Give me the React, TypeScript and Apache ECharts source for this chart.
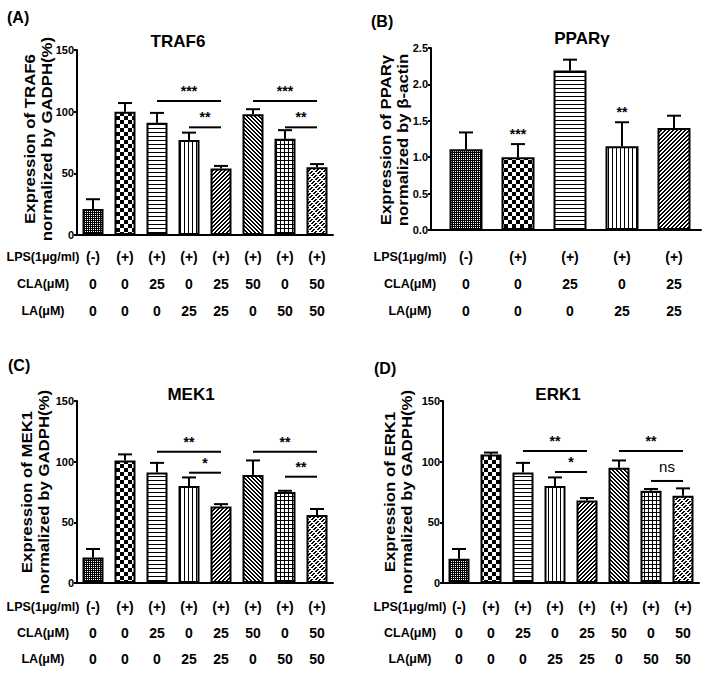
import React, { useEffect, useRef } from "react";
import * as echarts from "echarts";

// ---------- DATA ----------
const lps8 = ["(-)", "(+)", "(+)", "(+)", "(+)", "(+)", "(+)", "(+)"];
const cla8 = ["0", "0", "25", "0", "25", "50", "0", "50"];
const la8 = ["0", "0", "0", "25", "25", "0", "50", "50"];

const lps5 = ["(-)", "(+)", "(+)", "(+)", "(+)"];
const cla5 = ["0", "0", "25", "0", "25"];
const la5 = ["0", "0", "0", "25", "25"];

const rowLabels = ["LPS(1\u03bcg/ml)", "CLA(\u03bcM)", "LA(\u03bcM)"];

const traf6Mean = [21, 100, 91, 77, 54, 98, 78, 55];
const traf6Err = [8, 7, 8, 6, 2, 4, 7, 2.5];
const ppargMean = [1.11, 1.0, 2.19, 1.15, 1.4];
const ppargErr = [0.23, 0.18, 0.15, 0.33, 0.17];
const mek1Mean = [21, 101, 91, 80, 63, 89, 75, 56];
const mek1Err = [7, 5, 8, 7, 2, 12, 1, 5];
const erk1Mean = [20, 106, 91, 80, 68, 95, 76, 72];
const erk1Err = [8, 1.5, 8, 7, 2, 6, 1.5, 6];

const traf6Sig = [
  { from: 2, to: 4, y: 108.6, label: "***" },
  { from: 3, to: 4, y: 87.3, label: "**" },
  { from: 5, to: 7, y: 108.6, label: "***" },
  { from: 6, to: 7, y: 87.3, label: "**" },
];
const ppargSig = [
  { at: 1, label: "***" },
  { at: 3, label: "**" },
];
const mek1Sig = [
  { from: 2, to: 4, y: 108.2, label: "**" },
  { from: 3, to: 4, y: 90.9, label: "*" },
  { from: 5, to: 7, y: 108.2, label: "**" },
  { from: 6, to: 7, y: 87.6, label: "**" },
];
const erk1Sig = [
  { from: 2, to: 4, y: 108.8, label: "**" },
  { from: 3, to: 4, y: 91.5, label: "*" },
  { from: 5, to: 7, y: 108.8, label: "**" },
  { from: 6, to: 7, y: 84.1, label: "ns" },
];

const titles = ["TRAF6", "PPAR\u03b3", "MEK1", "ERK1"];
const panelLabels = ["(A)", "(B)", "(C)", "(D)"];
const yNames = [
  "Expression of TRAF6\nnormalized by GADPH(%)",
  "Expression of PPAR\u03b3\nnormalized by \u03b2-actin",
  "Expression of MEK1\nnormalized by GADPH(%)",
  "Expression of ERK1\nnormalized by GADPH(%)",
];

// ---------- STYLE ----------
const FONT = '"Liberation Sans", Arial, Helvetica, sans-serif';

function tile(w: number, h: number, on: (x: number, y: number) => boolean) {
  const c = document.createElement("canvas");
  c.width = w;
  c.height = h;
  const ctx = c.getContext("2d")!;
  ctx.fillStyle = "#fff";
  ctx.fillRect(0, 0, w, h);
  ctx.fillStyle = "#000";
  for (let y = 0; y < h; y++)
    for (let x = 0; x < w; x++) if (on(x, y)) ctx.fillRect(x, y, 1, 1);
  return { image: c.toDataURL(), repeat: "repeat", imageWidth: w, imageHeight: h };
}

function buildOption() {
  const patterns = [
    tile(2, 2, (x, y) => !(x === 1 && y === 1)),
    tile(8, 8, (x, y) => (Math.floor(x / 4) + Math.floor(y / 4)) % 2 === 0),
    tile(4, 4, (_x, y) => y === 0),
    tile(4, 4, (x) => x === 0),
    tile(4, 4, (x, y) => (x + y) % 4 >= 2),
    tile(4, 4, (x, y) => (x - y + 8) % 4 >= 2),
    tile(4, 4, (x, y) => x === 0 || y === 0),
    tile(8, 8, (x, y) => (x + y) % 4 >= 2 && (x - y + 16) % 8 < 6),
  ];

  const grids = [
    { left: 77, top: 50, width: 256, height: 185 }, // A
    { left: 431, top: 48, width: 270, height: 182 }, // B frame
    { left: 440, top: 48, width: 260, height: 182 }, // B bars
    { left: 77, top: 401, width: 256, height: 182 }, // C
    { left: 443, top: 401, width: 256, height: 182 }, // D
  ];

  const tableA = { margin: 8.5, lh: 27 };
  const tableB = { margin: 13.5, lh: 27 };
  const tableC = { margin: 10.5, lh: 26 };

  const catAxis = (
    gridIndex: number,
    lps: string[],
    cla: string[],
    la: string[],
    t: { margin: number; lh: number },
    showLine = true
  ) => ({
    type: "category",
    gridIndex,
    data: lps.map((v, i) => `${v}\n${cla[i]}\n${la[i]}`),
    axisLine: { show: showLine, onZero: false, lineStyle: { color: "#000", width: 2 } },
    axisTick: { show: false },
    splitLine: { show: false },
    axisLabel: {
      interval: 0,
      margin: t.margin,
      lineHeight: t.lh,
      fontSize: 14,
      fontWeight: "bold",
      color: "#000",
      fontFamily: FONT,
    },
  });

  const valAxis = (gridIndex: number, max: number, interval: number, fmt?: (v: number) => string) => ({
    type: "value",
    gridIndex,
    min: 0,
    max,
    interval,
    axisLine: { show: true, onZero: false, lineStyle: { color: "#000", width: 2 } },
    axisTick: { show: true, length: 3, lineStyle: { color: "#000", width: 2 } },
    splitLine: { show: false },
    axisLabel: {
      margin: 3,
      fontSize: 11,
      fontWeight: "bold",
      color: "#000",
      fontFamily: FONT,
      formatter: fmt,
    },
  });

  const barSeries = (xi: number, yi: number, means: number[], bw: number) => ({
    type: "bar",
    xAxisIndex: xi,
    yAxisIndex: yi,
    barWidth: bw,
    z: 2,
    silent: true,
    data: means.map((m, i) => ({
      value: m,
      itemStyle: { color: patterns[i], borderColor: "#000", borderWidth: 2 },
    })),
  });

  const errSeries = (xi: number, yi: number, means: number[], errs: number[]) => ({
    type: "custom",
    xAxisIndex: xi,
    yAxisIndex: yi,
    z: 3,
    silent: true,
    data: means.map((m, i) => [i, m, m + errs[i]]),
    renderItem: (_p: any, api: any) => {
      const a = api.coord([api.value(0), api.value(1)]);
      const b = api.coord([api.value(0), api.value(2)]);
      return {
        type: "group",
        children: [
          {
            type: "line",
            shape: { x1: a[0], y1: a[1], x2: b[0], y2: b[1] },
            style: { stroke: "#000", lineWidth: 2 },
          },
          {
            type: "line",
            shape: { x1: b[0] - 7, y1: b[1], x2: b[0] + 7, y2: b[1] },
            style: { stroke: "#000", lineWidth: 2 },
          },
        ],
      };
    },
  });

  const sigSeries = (
    xi: number,
    yi: number,
    sigs: { from: number; to: number; y: number; label: string }[]
  ) => ({
    type: "custom",
    xAxisIndex: xi,
    yAxisIndex: yi,
    z: 4,
    silent: true,
    data: sigs.map((s) => [s.from, s.to, s.y]),
    renderItem: (params: any, api: any) => {
      const s = sigs[params.dataIndex];
      const p1 = api.coord([api.value(0), api.value(2)]);
      const p2 = api.coord([api.value(1), api.value(2)]);
      const children: any[] = [];
      if (s.from !== s.to) {
        children.push({
          type: "line",
          shape: { x1: p1[0], y1: p1[1], x2: p2[0], y2: p2[1] },
          style: { stroke: "#000", lineWidth: 2 },
        });
      }
      const ns = s.label === "ns";
      children.push({
        type: "text",
        x: (p1[0] + p2[0]) / 2,
        y: p1[1] + (ns ? -14 : -10),
        style: {
          text: s.label,
          fill: "#000",
          font: (ns ? "normal 15px " : "bold 14px ") + FONT,
          align: "center",
          verticalAlign: "middle",
          textAlign: "center",
          textVerticalAlign: "middle",
        },
      });
      return { type: "group", children };
    },
  });

  const ppargSigFull = ppargSig.map((s) => ({
    from: s.at,
    to: s.at,
    y: ppargMean[s.at] + ppargErr[s.at],
    label: s.label,
  }));

  const titleStyle = { fontSize: 17, fontWeight: "bold", color: "#000", fontFamily: FONT };
  const titlePos = [
    { left: 178, top: 33 },
    { left: 582, top: 30 },
    { left: 191, top: 386 },
    { left: 558, top: 386 },
  ];

  const panelPos = [
    { x: 7, y: 9 },
    { x: 371, y: 13 },
    { x: 8, y: 357 },
    { x: 374, y: 360 },
  ];

  const yNamePos = [
    { x: 38.5, y: 139 },
    { x: 395, y: 140 },
    { x: 35.5, y: 492 },
    { x: 399, y: 492 },
  ];

  const rowLabelBlocks = [
    { cx: 43, axisY: 235, t: tableA },
    { cx: 410, axisY: 230, t: tableB },
    { cx: 43, axisY: 583, t: tableC },
    { cx: 410, axisY: 583, t: tableC },
  ];

  const graphic: any[] = [];
  panelLabels.forEach((txt, i) => {
    graphic.push({
      type: "text",
      x: panelPos[i].x,
      y: panelPos[i].y,
      style: {
        text: txt,
        fill: "#000",
        font: "bold 16px " + FONT,
        textAlign: "left",
        textVerticalAlign: "top",
        align: "left",
        verticalAlign: "top",
      },
    });
  });
  yNames.forEach((txt, i) => {
    graphic.push({
      type: "text",
      x: yNamePos[i].x,
      y: yNamePos[i].y,
      rotation: Math.PI / 2,
      scaleX: 1.2,
      style: {
        text: txt,
        fill: "#000",
        font: "bold 14px " + FONT,
        lineHeight: 17,
        textAlign: "center",
        textVerticalAlign: "middle",
        align: "center",
        verticalAlign: "middle",
      },
    });
  });
  rowLabelBlocks.forEach((b) => {
    rowLabels.forEach((txt, r) => {
      graphic.push({
        type: "text",
        x: b.cx,
        y: b.axisY + b.t.margin + b.t.lh * (r + 0.5),
        style: {
          text: txt,
          fill: "#000",
          font: "bold 12.5px " + FONT,
          textAlign: "center",
          textVerticalAlign: "middle",
          align: "center",
          verticalAlign: "middle",
        },
      });
    });
  });

  return {
    animation: false,
    backgroundColor: "#fff",
    title: titles.map((t, i) => ({
      text: t,
      left: titlePos[i].left,
      top: titlePos[i].top,
      textAlign: "center",
      padding: 0,
      textStyle: titleStyle,
    })),
    grid: grids,
    xAxis: [
      catAxis(0, lps8, cla8, la8, tableA),
      {
        type: "value",
        gridIndex: 1,
        min: 0,
        max: 1,
        axisLine: { show: true, onZero: false, lineStyle: { color: "#000", width: 2 } },
        axisTick: { show: false },
        axisLabel: { show: false },
        splitLine: { show: false },
      },
      catAxis(2, lps5, cla5, la5, tableB, false),
      catAxis(3, lps8, cla8, la8, tableC),
      catAxis(4, lps8, cla8, la8, tableC),
    ],
    yAxis: [
      valAxis(0, 150, 50),
      valAxis(1, 2.5, 0.5, (v: number) => v.toFixed(1)),
      { type: "value", gridIndex: 2, min: 0, max: 2.5, show: false },
      valAxis(3, 150, 50),
      valAxis(4, 150, 50),
    ],
    series: [
      barSeries(0, 0, traf6Mean, 21),
      errSeries(0, 0, traf6Mean, traf6Err),
      sigSeries(0, 0, traf6Sig),
      barSeries(2, 2, ppargMean, 33),
      errSeries(2, 2, ppargMean, ppargErr),
      sigSeries(2, 2, ppargSigFull),
      barSeries(3, 3, mek1Mean, 21),
      errSeries(3, 3, mek1Mean, mek1Err),
      sigSeries(3, 3, mek1Sig),
      barSeries(4, 4, erk1Mean, 21),
      errSeries(4, 4, erk1Mean, erk1Err),
      sigSeries(4, 4, erk1Sig),
    ],
    graphic,
  };
}

export default function App() {
  const ref = useRef<HTMLDivElement>(null);
  useEffect(() => {
    if (!ref.current) return;
    const chart = echarts.init(ref.current, null, { renderer: "svg", width: 708, height: 676 });
    chart.setOption(buildOption() as any);
    return () => chart.dispose();
  }, []);
  return (
    <div
      ref={ref}
      style={{ position: "absolute", left: 0, top: 0, width: 708, height: 676, background: "#fff" }}
    />
  );
}
